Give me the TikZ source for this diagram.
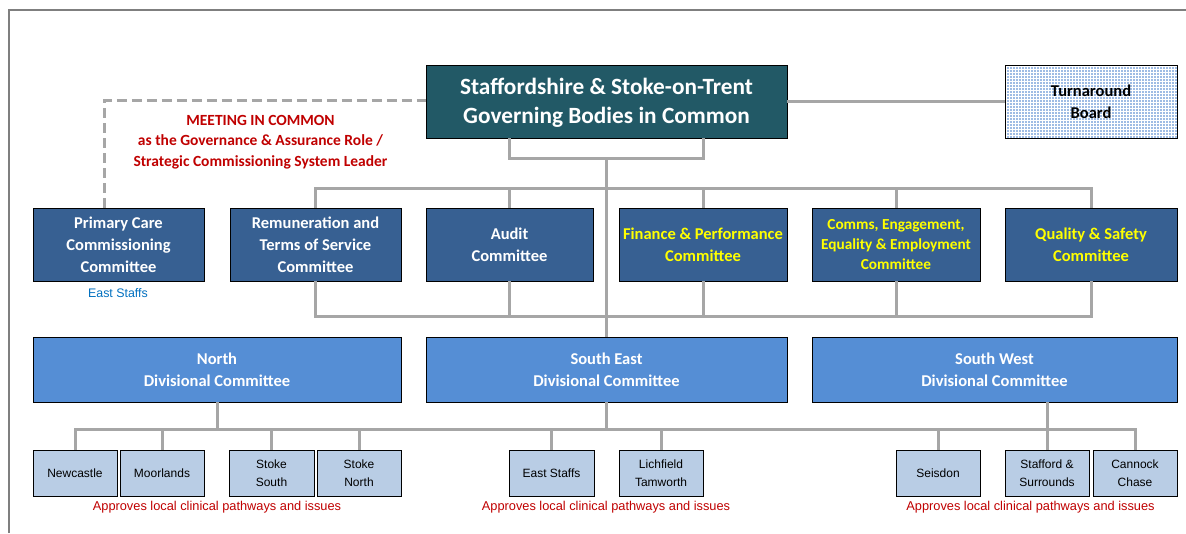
\documentclass[tikz,border=0pt]{standalone}
\usepackage{fontspec}
\setmainfont{Carlito}
\newfontfamily\tah{Liberation Sans}
\usetikzlibrary{calc}
\definecolor{gbc}{HTML}{225966}
\definecolor{comc}{HTML}{376092}
\definecolor{divc}{HTML}{558ED5}
\definecolor{locc}{HTML}{B9CDE5}
\definecolor{tbc}{HTML}{9FBCE4}
\definecolor{yelc}{HTML}{FFFF00}
\definecolor{redc}{HTML}{C00000}
\definecolor{bluec}{HTML}{0070C0}
\definecolor{connc}{HTML}{A6A6A6}
\definecolor{framec}{HTML}{7F7F7F}
\begin{document}
\begin{tikzpicture}[x=1pt,y=-1pt,
  box/.style={draw=black, line width=0.8pt, inner sep=0pt, align=center, font=\bfseries\fontsize{16.5}{22}\selectfont},
  gbox/.style={box, fill=gbc, text=white, minimum width=361pt, minimum height=73pt, font=\bfseries\fontsize{23.3}{29.5}\selectfont},
  cbox/.style={box, fill=comc, text=white, minimum height=73pt},
  ybox/.style={cbox, text=yelc},
  dbox/.style={box, fill=divc, text=white, minimum height=65pt},
  lbox/.style={draw=black, line width=0.8pt, fill=locc, inner sep=0pt, align=center, minimum height=46pt, minimum width=84pt, font=\tah\fontsize{12}{18}\selectfont},
  conn/.style={draw=connc, line width=3pt},
  dconn/.style={conn, dash pattern=on 10pt off 5pt},
  redcap/.style={inner sep=0pt, text=redc, font=\tah\fontsize{12.8}{15}\selectfont},
  line join=miter]
\useasboundingbox (0,0) rectangle (1186,533);
\fill[white] (0,0) rectangle (1186,533);
% frame
\draw[framec, line width=1.5pt] (9,533) -- (9,10) -- (1186,10);

% coordinates
\coordinate (j1) at (606.5,158);
\coordinate (bus1) at (606.5,188);
\coordinate (bus2) at (606.5,316);
\coordinate (bus3) at (606.5,429);
\coordinate (dc) at (104.5,100);

\node[gbox] (gb) at (606.5,101.5) {\rule{0pt}{19pt}Staffordshire \& Stoke-on-Trent\\Governing Bodies in Common};

% turnaround board
\fill[tbc] (1005,65) rectangle (1177,138);
\begin{scope}
\clip (1005,65) rectangle (1177,138);
\foreach \x in {1006.5,1009.5,...,1178} \draw[white, line width=0.9pt] (\x,65) -- (\x,138);
\foreach \y in {66.5,69.5,...,139} \draw[white, line width=0.9pt] (1005,\y) -- (1177,\y);
\end{scope}
\node[draw=black, line width=0.8pt, inner sep=0pt, minimum width=172pt, minimum height=73pt, align=center, font=\bfseries\fontsize{16.5}{22}\selectfont] (tb) at (1091,101.5) {Turnaround\\Board};

% committees
\node[cbox, minimum width=171pt] (pc) at (118.5,244.5) {Primary Care\\Commissioning\\Committee};
\node[cbox, minimum width=171pt] (rem) at (315.5,244.5) {Remuneration and\\Terms of Service\\Committee};
\node[cbox, minimum width=167pt] (aud) at (509.5,244.5) {Audit\\Committee};
\node[ybox, minimum width=168pt] (fin) at (703,244.5) {Finance \& Performance\\Committee};
\node[ybox, minimum width=168pt, font=\bfseries\fontsize{15.3}{20}\selectfont] (com) at (896,244.5) {Comms, Engagement,\\Equality \& Employment\\Committee};
\node[ybox, minimum width=172pt] (qs) at (1091,244.5) {Quality \& Safety\\Committee};

% divisional
\node[dbox, minimum width=368pt] (north) at (217,369.5) {North\\Divisional Committee};
\node[dbox, minimum width=361pt] (se) at (606.5,369.5) {South East\\Divisional Committee};
\node[dbox, minimum width=365pt] (sw) at (994.5,369.5) {South West\\Divisional Committee};

% local
\node[lbox] (nc) at (75,473) {Newcastle};
\node[lbox] (mo) at (162,473) {Moorlands};
\node[lbox, minimum width=85pt] (ss) at (271.5,473) {Stoke\\South};
\node[lbox] (sn) at (359,473) {Stoke\\North};
\node[lbox, minimum width=85pt] (es) at (551.5,473) {East Staffs};
\node[lbox] (lt) at (661,473) {Lichfield\\Tamworth};
\node[lbox] (sd) at (938,473) {Seisdon};
\node[lbox] (sf) at (1047,473) {Stafford \&\\Surrounds};
\node[lbox] (cc) at (1135,473) {Cannock\\Chase};

% texts
\node[inner sep=0pt, align=center, text=redc, font=\bfseries\fontsize{15.5}{20.5}\selectfont] (mic) at (260.5,142) {MEETING IN COMMON\\as the Governance \& Assurance Role /\\Strategic Commissioning System Leader};
\node[inner sep=0pt, text=bluec, font=\tah\fontsize{12.4}{14}\selectfont] (est) at (118,293.5) {East Staffs};
\node[redcap] (cap1) at (217,507) {Approves local clinical pathways and issues};
\node[redcap] (cap2) at (606,507) {Approves local clinical pathways and issues};
\node[redcap] (cap3) at (1030.5,507) {Approves local clinical pathways and issues};

% connectors
\draw[conn] (gb.south -| aud.north) -- (aud.north |- j1) -- (fin.north |- j1) -- (gb.south -| fin.north);
\draw[conn] (j1) -- (se.north);
\draw[conn] (gb.east) -- (tb.west);
\draw[dconn] (pc.north -| dc) -- (dc) -- (gb.west |- dc);
% committee upper bus
\draw[conn] (rem.north) -- (rem.north |- bus1) -- (qs.north |- bus1) -- (qs.north);
\foreach \n in {aud,fin,com} \draw[conn] (\n.north) -- (\n.north |- bus1);
% committee lower bus
\draw[conn] (rem.south) -- (rem.south |- bus2) -- (qs.south |- bus2) -- (qs.south);
\foreach \n in {aud,fin,com} \draw[conn] (\n.south) -- (\n.south |- bus2);
% divisions to locals
\draw[conn] (north.south) -- (north.south |- bus3);
\draw[conn] (se.south) -- (se.south |- bus3);
\draw[conn] (sw.south -| sf.north) -- (sf.north |- bus3);
\draw[conn] (nc.north) -- (nc.north |- bus3) -- (cc.north |- bus3) -- (cc.north);
\foreach \n in {mo,ss,sn,es,lt,sd,sf} \draw[conn] (\n.north) -- (\n.north |- bus3);
\end{tikzpicture}
\end{document}
